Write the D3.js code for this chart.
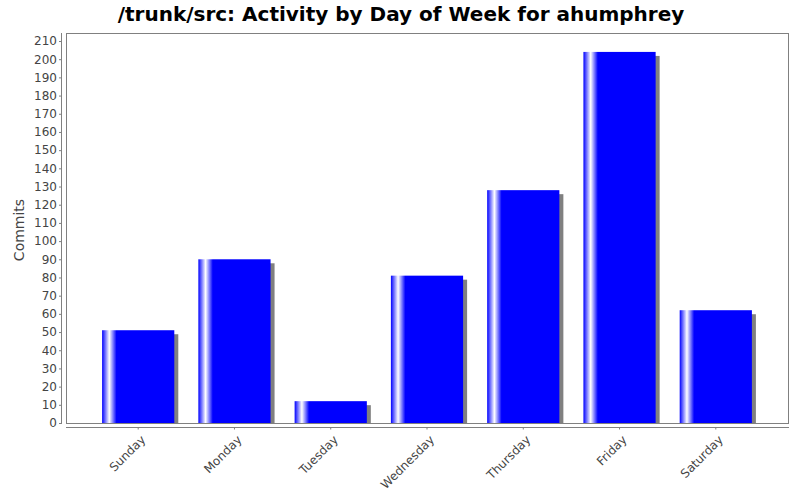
<!DOCTYPE html>
<html><head><meta charset="utf-8">
<script src="https://cdn.jsdelivr.net/npm/d3@7"></script>
<style>body{margin:0;background:#fff;}svg{display:block;font-family:"DejaVu Sans",sans-serif;}</style>
</head><body>
<svg id="c" width="800" height="500"></svg>
<script>
const categories = ["Sunday","Monday","Tuesday","Wednesday","Thursday","Friday","Saturday"];
const commits = [51, 90, 12, 81, 128, 204, 62];
const yTicks = d3.range(0, 211, 10);
const title = "/trunk/src: Activity by Day of Week for ahumphrey";
const yLabel = "Commits";

const svg = d3.select("#c");
const L = 66, R = 788, T = 33, B = 423;
const x = d3.scaleBand().domain(categories).range([L, R]).paddingInner(0.25).paddingOuter(0.375);
const y = d3.scaleLinear().domain([0, 214.4]).range([B, T]);

const defs = svg.append("defs");
const g = defs.append("linearGradient").attr("id","bg").attr("x1","0").attr("x2","1").attr("y1","0").attr("y2","0");
[[0,"#0000ff"],[0.10,"#ffffff"],[0.20,"#0000ff"],[1,"#0000ff"]].forEach(([o,c])=>g.append("stop").attr("offset",o).attr("stop-color",c));

svg.append("text").attr("x", 401).attr("y", 21).attr("text-anchor","middle")
  .attr("font-size", 20).attr("font-weight","bold").attr("fill","#000").text(title);

svg.append("rect").attr("x", L+0.5).attr("y", T+0.5).attr("width", R-L).attr("height", B-T)
  .attr("fill","#fff").attr("stroke","#808080");

const data = categories.map((c,i)=>({c, v: commits[i]}));
svg.append("g").selectAll("rect").data(data).join("rect")
  .attr("x", d=>x(d.c)+4).attr("y", d=>y(d.v)+4)
  .attr("width", x.bandwidth()).attr("height", d=>Math.max(0, B - y(d.v) - 4))
  .attr("fill","#808080");
svg.append("g").selectAll("rect").data(data).join("rect")
  .attr("x", d=>x(d.c)).attr("y", d=>y(d.v))
  .attr("width", x.bandwidth()).attr("height", d=>B - y(d.v))
  .attr("fill","url(#bg)");

// y axis
const ya = svg.append("g").attr("transform","translate(62,0)")
  .call(d3.axisLeft(y).tickValues(yTicks).tickSize(3).tickPadding(2));
ya.select(".domain").attr("stroke","#808080").attr("d", `M-0.5,${T}V${B+0.5}`);
ya.selectAll(".tick line").attr("stroke","#808080");
ya.selectAll(".tick text").attr("fill","#444").attr("font-size",12).attr("font-family","DejaVu Sans");

// x axis
const xa = svg.append("g").attr("transform","translate(0,427.5)")
  .call(d3.axisBottom(x).tickSize(2).tickSizeOuter(0));
xa.select(".domain").attr("stroke","#808080").attr("d", `M${L},0H${R+1}`);
xa.selectAll(".tick line").attr("stroke","#808080");
xa.selectAll(".tick text").attr("fill","#444").attr("font-size",12).attr("font-family","DejaVu Sans")
  .attr("text-anchor","end").attr("dy",null).attr("y",null)
  .attr("transform","translate(8,13) rotate(-45)");

svg.append("text").attr("transform","translate(24,230) rotate(-90)").attr("text-anchor","middle")
  .attr("font-size",14).attr("fill","#444").text(yLabel);
</script>
</body></html>
